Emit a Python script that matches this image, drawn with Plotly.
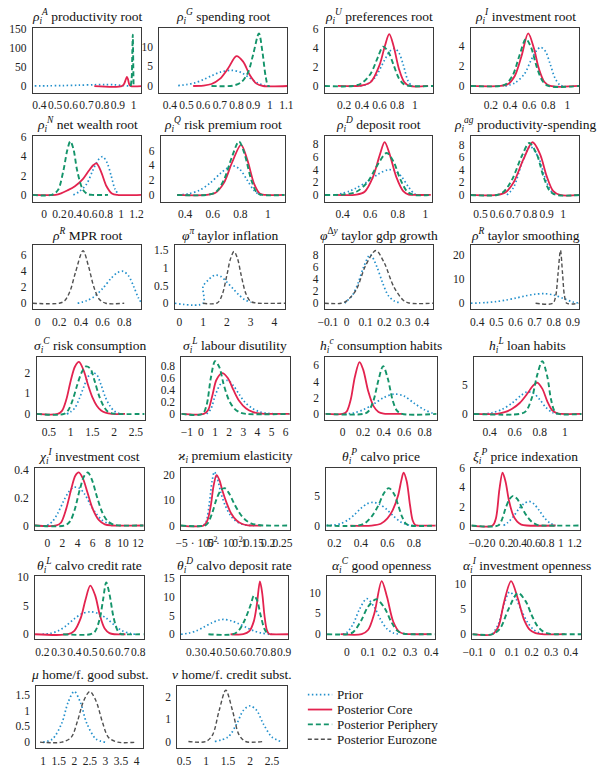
import plotly.graph_objects as go

W, H = 601, 769

# ---------------- data ----------------
TITLES = [
    "<i>ρ</i><sub><i>i</i></sub><sup><i>A</i></sup> productivity root",
    "<i>ρ</i><sub><i>i</i></sub><sup><i>G</i></sup> spending root",
    "<i>ρ</i><sub><i>i</i></sub><sup><i>U</i></sup> preferences root",
    "<i>ρ</i><sub><i>i</i></sub><sup><i>I</i></sup> investment root",
    "<i>ρ</i><sub><i>i</i></sub><sup><i>N</i></sup> net wealth root",
    "<i>ρ</i><sub><i>i</i></sub><sup><i>Q</i></sup> risk premium root",
    "<i>ρ</i><sub><i>i</i></sub><sup><i>D</i></sup> deposit root",
    "<i>ρ</i><sub><i>i</i></sub><sup><i>ag</i></sup> productivity-spending",
    "<i>ρ</i><sup><i>R</i></sup> MPR root",
    "<i>φ</i><sup><i>π</i></sup> taylor inflation",
    "<i>φ</i><sup>Δ<i>y</i></sup> taylor gdp growth",
    "<i>ρ</i><sup><i>R</i></sup> taylor smoothing",
    "<i>σ</i><sub><i>i</i></sub><sup><i>C</i></sup> risk consumption",
    "<i>σ</i><sub><i>i</i></sub><sup><i>L</i></sup> labour disutility",
    "<i>h</i><sub><i>i</i></sub><sup><i>c</i></sup> consumption habits",
    "<i>h</i><sub><i>i</i></sub><sup><i>L</i></sup> loan habits",
    "<i>χ</i><sub><i>i</i></sub><sup><i>I</i></sup> investment cost",
    "<i>ϰ</i><sub><i>i</i></sub> premium elasticity",
    "<i>θ</i><sub><i>i</i></sub><sup><i>P</i></sup> calvo price",
    "<i>ξ</i><sub><i>i</i></sub><sup><i>P</i></sup> price indexation",
    "<i>θ</i><sub><i>i</i></sub><sup><i>L</i></sup> calvo credit rate",
    "<i>θ</i><sub><i>i</i></sub><sup><i>D</i></sup> calvo deposit rate",
    "<i>α</i><sub><i>i</i></sub><sup><i>C</i></sup> good openness",
    "<i>α</i><sub><i>i</i></sub><sup><i>I</i></sup> investment openness",
    "<i>μ</i> home/f. good subst.",
    "<i>ν</i> home/f. credit subst.",
]
SERIES_NAMES = ["Prior", "Posterior Core", "Posterior Periphery", "Posterior Eurozone"]

# 1 rho_A
rhoA_prior = [(0.37, 0.2), (0.45, 0.6), (0.55, 1.2), (0.65, 2.2), (0.75, 3.4), (0.82, 3.9), (0.88, 3.2), (0.93, 1.5), (0.97, 0.3), (0.99, 0)]
rhoA_core = [(0.75, 0), (0.925, 0), (0.94, 6), (0.95, 17), (0.958, 24), (0.965, 17), (0.972, 5), (0.98, 0), (1.05, 0)]
rhoA_peri = [(0.982, 0), (0.988, 20), (0.992, 90), (0.995, 135), (0.998, 60), (1.0, 0)]
rhoA_xticks = [0.4, 0.5, 0.6, 0.7, 0.8, 0.9, 1]
rhoA_yticks = [0, 50, 100, 150]
# 2 rho_G
rhoG_prior = [(0.45, 0.1), (0.5, 0.35), (0.55, 0.8), (0.6, 1.6), (0.65, 2.6), (0.7, 3.5), (0.77, 4.0), (0.83, 3.4), (0.88, 2.0), (0.93, 0.7), (0.97, 0.1), (1.0, 0)]
rhoG_core = [(0.54, 0), (0.6, 0.1), (0.65, 0.5), (0.7, 1.8), (0.75, 4.5), (0.8, 7.6), (0.84, 6.2), (0.88, 2.8), (0.92, 0.6), (0.96, 0), (1.106, 0)]
rhoG_peri = [(0.65, 0), (0.78, 0.1), (0.83, 1), (0.87, 3.5), (0.9, 8), (0.935, 13.4), (0.955, 9), (0.975, 2.5), (0.99, 0), (1.0, 0)]
rhoG_xticks = [0.4, 0.5, 0.6, 0.7, 0.8, 0.9, 1, 1.1]
rhoG_yticks = [0, 5, 10]
# 3 rho_U
rhoU_prior = [(0.38, 0), (0.45, 0.15), (0.55, 0.9), (0.65, 2.6), (0.72, 3.7), (0.77, 3.95), (0.82, 3.5), (0.87, 2.2), (0.92, 0.6), (0.96, 0.05), (0.98, 0)]
rhoU_core = [(0.13, 0), (0.4, 0.05), (0.5, 0.4), (0.6, 2.2), (0.66, 4.2), (0.71, 5.47), (0.76, 4.2), (0.82, 1.8), (0.88, 0.4), (0.94, 0), (1.15, 0)]
rhoU_peri = [(-0.02, 0), (0.3, 0), (0.4, 0.3), (0.5, 1.3), (0.58, 3.0), (0.64, 4.15), (0.7, 3.6), (0.76, 2.2), (0.82, 0.8), (0.88, 0.15), (0.95, 0), (1.21, 0)]
rhoU_xticks = [0.2, 0.4, 0.6, 0.8, 1]
rhoU_yticks = [0, 2, 4, 6]
# 4 rho_I
rhoI_prior = [(0.35, 0), (0.45, 0.3), (0.55, 1.2), (0.62, 2.6), (0.68, 3.6), (0.72, 3.9), (0.77, 3.5), (0.82, 2.2), (0.87, 0.8), (0.92, 0.1), (0.95, 0)]
rhoI_core = [(-0.01, 0), (0.3, 0), (0.38, 0.2), (0.45, 1.0), (0.52, 3.0), (0.59, 5.3), (0.65, 3.8), (0.7, 1.8), (0.76, 0.4), (0.82, 0), (1.125, 0)]
rhoI_peri = [(-0.01, 0), (0.3, 0), (0.36, 0.2), (0.43, 1.1), (0.5, 3.1), (0.566, 4.74), (0.62, 3.9), (0.68, 1.9), (0.74, 0.5), (0.8, 0), (1.125, 0)]
rhoI_xticks = [0.2, 0.4, 0.6, 0.8, 1]
rhoI_yticks = [0, 2, 4]
# 5 rho_N
rhoN_prior = [(0.38, 0), (0.45, 0.3), (0.55, 1.1), (0.63, 2.5), (0.7, 3.6), (0.76, 3.97), (0.82, 3.3), (0.87, 2.0), (0.92, 0.6), (0.97, 0)]
rhoN_core = [(-0.148, 0), (0.15, 0), (0.22, 0.15), (0.3, 0.45), (0.4, 0.9), (0.5, 1.6), (0.58, 2.5), (0.64, 3.1), (0.68, 3.27), (0.74, 2.4), (0.81, 0.9), (0.88, 0.15), (0.95, 0), (1.263, 0)]
rhoN_peri = [(-0.148, 0), (0.1, 0), (0.18, 0.5), (0.25, 2.5), (0.3, 4.6), (0.34, 5.57), (0.38, 4.8), (0.43, 2.5), (0.5, 0.6), (0.56, 0.1), (0.62, 0), (0.83, 0)]
rhoN_xticks = [0, 0.2, 0.4, 0.6, 0.8, 1, 1.2]
rhoN_yticks = [0, 2, 4, 6]
# 6 rho_Q
rhoQ_prior = [(0.35, 0), (0.42, 0.15), (0.5, 0.6), (0.58, 1.6), (0.66, 3.0), (0.72, 3.8), (0.76, 3.9), (0.8, 3.4), (0.85, 2.0), (0.9, 0.6), (0.94, 0.05), (0.96, 0)]
rhoQ_core = [(0.342, 0), (0.55, 0), (0.62, 0.3), (0.68, 1.6), (0.74, 4.4), (0.805, 6.8), (0.85, 4.8), (0.9, 1.5), (0.94, 0.2), (0.98, 0), (1.12, 0)]
rhoQ_peri = [(0.342, 0), (0.55, 0), (0.62, 0.35), (0.68, 2.0), (0.74, 5.2), (0.79, 7.26), (0.83, 5.6), (0.88, 2.0), (0.92, 0.3), (0.96, 0), (1.12, 0)]
rhoQ_xticks = [0.4, 0.6, 0.8, 1]
rhoQ_yticks = [0, 2, 4, 6]
# 7 rho_D
rhoD_prior = [(0.35, 0), (0.45, 0.6), (0.5, 1.1), (0.58, 2.1), (0.66, 3.3), (0.73, 3.95), (0.78, 3.8), (0.83, 2.8), (0.88, 1.2), (0.92, 0.2), (0.95, 0)]
rhoD_core = [(0.35, 0), (0.5, 0.05), (0.56, 0.5), (0.62, 2.8), (0.67, 6.3), (0.705, 8.3), (0.74, 6.5), (0.79, 2.8), (0.84, 0.6), (0.88, 0.05), (0.92, 0), (1.04, 0)]
rhoD_peri = [(0.27, 0), (0.4, 0.05), (0.5, 0.5), (0.58, 2.0), (0.65, 4.6), (0.72, 6.6), (0.77, 5.2), (0.82, 2.4), (0.87, 0.5), (0.92, 0), (1.04, 0)]
rhoD_xticks = [0.4, 0.6, 0.8, 1]
rhoD_yticks = [0, 2, 4, 6, 8]
# 8 rho_ag
rhoag_prior = [(0.66, 0), (0.7, 1.2), (0.75, 5.0), (0.8, 7.7), (0.85, 6.0), (0.9, 2.0), (0.94, 0.2), (0.96, 0)]
rhoag_core = [(0.441, 0), (0.6, 0), (0.65, 0.4), (0.7, 2.0), (0.76, 5.7), (0.815, 8.4), (0.86, 6.5), (0.9, 3.0), (0.94, 0.6), (0.98, 0), (1.098, 0)]
rhoag_peri = [(0.441, 0), (0.6, 0), (0.64, 0.5), (0.69, 2.4), (0.75, 6.2), (0.795, 8.27), (0.84, 6.5), (0.88, 3.0), (0.92, 0.6), (0.96, 0), (1.098, 0)]
rhoag_xticks = [0.5, 0.6, 0.7, 0.8, 0.9, 1]
rhoag_yticks = [0, 2, 4, 6, 8]
# 9 rho_R MPR
mpr_prior = [(0.37, 0), (0.45, 0.3), (0.52, 0.8), (0.6, 1.8), (0.68, 3.1), (0.74, 3.8), (0.79, 3.95), (0.84, 3.4), (0.89, 2.0), (0.93, 0.7), (0.959, 0.05)]
mpr_euro = [(-0.045, 0), (0.2, 0), (0.25, 0.3), (0.3, 1.5), (0.35, 3.8), (0.42, 6.5), (0.47, 4.6), (0.52, 2.0), (0.57, 0.5), (0.63, 0), (0.8, 0)]
mpr_xticks = [0, 0.2, 0.4, 0.6, 0.8]
mpr_yticks = [0, 2, 4, 6]
# 10 phi_pi
phipi_prior = [(-0.19, 0), (1.0, 0), (1.0, 0.48), (1.2, 0.65), (1.4, 0.77), (1.55, 0.8), (1.75, 0.76), (2.0, 0.6), (2.25, 0.42), (2.5, 0.24), (2.75, 0.1), (3.0, 0.03)]
phipi_euro = [(1.0, 0), (1.6, 0.01), (1.8, 0.24), (2.0, 0.8), (2.15, 1.26), (2.3, 1.47), (2.45, 1.26), (2.6, 0.8), (2.8, 0.27), (3.0, 0.05), (3.2, 0.01), (3.3, 0), (4.45, 0)]
phipi_xticks = [0, 1, 2, 3, 4]
phipi_yticks = [0, 0.5, 1, 1.5]
# 11 phi_dy
phidy_prior = [(-0.01, 0), (0.0, 0.35), (0.03, 1.3), (0.06, 3.3), (0.09, 6.0), (0.125, 8.0), (0.16, 6.0), (0.19, 3.4), (0.22, 1.3), (0.25, 0.4), (0.28, 0.1)]
phidy_euro = [(-0.117, 0), (-0.03, 0), (0.0, 0.4), (0.05, 2.2), (0.1, 6.2), (0.155, 8.7), (0.2, 6.6), (0.25, 2.7), (0.3, 0.5), (0.33, 0.05), (0.46, 0)]
phidy_xticks = [-0.1, 0, 0.1, 0.2, 0.3, 0.4]
phidy_yticks = [0, 2, 4, 6, 8]
# 12 rho_R smoothing
smo_prior = [(0.366, 0), (0.45, 0.3), (0.5, 0.7), (0.55, 1.3), (0.6, 2.1), (0.65, 3.0), (0.7, 3.7), (0.75, 3.95), (0.8, 3.4), (0.85, 2.0), (0.9, 0.5), (0.934, 0.05)]
smo_euro = [(0.705, 0), (0.795, 0), (0.81, 3), (0.822, 12), (0.835, 21.8), (0.846, 12), (0.856, 3), (0.868, 0), (0.93, 0)]
smo_xticks = [0.4, 0.5, 0.6, 0.7, 0.8, 0.9]
smo_yticks = [0, 10, 20]
# 13 sigma_C
sigC_prior = [(0.91, 0), (1.0, 0.1), (1.1, 0.3), (1.2, 0.75), (1.3, 1.3), (1.4, 1.8), (1.5, 2.0), (1.6, 1.9), (1.7, 1.4), (1.8, 0.8), (1.9, 0.4), (2.0, 0.14), (2.1, 0.04), (2.2, 0)]
sigC_core = [(0.216, 0), (0.7, 0), (0.8, 0.15), (0.9, 0.7), (1.0, 1.6), (1.1, 2.3), (1.19, 2.52), (1.3, 2.1), (1.4, 1.4), (1.5, 0.8), (1.6, 0.4), (1.7, 0.17), (1.8, 0.06), (1.95, 0), (2.25, 0)]
sigC_peri = [(0.216, 0), (0.85, 0), (0.95, 0.2), (1.05, 0.7), (1.15, 1.4), (1.25, 2.0), (1.35, 2.3), (1.45, 2.2), (1.55, 1.6), (1.65, 0.9), (1.75, 0.4), (1.85, 0.12), (1.95, 0.03), (2.05, 0), (2.7, 0)]
sigC_xticks = [0.5, 1, 1.5, 2, 2.5]
sigC_yticks = [0, 1, 2]
# 14 sigma_L
sigL_prior = [(0.4, 0), (0.7, 0.08), (1.0, 0.3), (1.4, 0.5), (1.9, 0.56), (2.3, 0.47), (2.7, 0.33), (3.1, 0.2), (3.6, 0.1), (4.1, 0.04), (4.6, 0.015), (5.0, 0.005), (5.3, 0)]
sigL_core = [(-1.39, 0), (0.2, 0), (0.5, 0.06), (0.8, 0.3), (1.1, 0.57), (1.5, 0.68), (1.9, 0.6), (2.3, 0.4), (2.7, 0.22), (3.2, 0.09), (3.7, 0.03), (4.3, 0.005), (5.0, 0), (6.28, 0)]
sigL_peri = [(-1.39, 0), (0.1, 0), (0.4, 0.15), (0.7, 0.6), (1.0, 0.88), (1.3, 0.78), (1.6, 0.5), (2.0, 0.22), (2.4, 0.08), (2.8, 0.02), (3.2, 0), (6.28, 0)]
sigL_xticks = [-1, 0, 1, 2, 3, 4, 5, 6]
sigL_yticks = [0, 0.2, 0.4, 0.6, 0.8]
# 15 h_c
hc_prior = [(0.02, 0), (0.1, 0.1), (0.2, 0.5), (0.3, 1.2), (0.4, 2.0), (0.5, 2.45), (0.6, 2.2), (0.7, 1.3), (0.8, 0.5), (0.88, 0.08), (0.9, 0)]
hc_core = [(-0.168, 0), (0.0, 0), (0.04, 0.3), (0.08, 1.8), (0.12, 4.6), (0.165, 6.4), (0.2, 5.5), (0.25, 2.8), (0.3, 1.0), (0.35, 0.25), (0.4, 0.04), (0.45, 0), (0.58, 0)]
hc_peri = [(-0.168, 0), (0.2, 0), (0.25, 0.3), (0.3, 1.6), (0.35, 4.2), (0.395, 5.9), (0.44, 4.4), (0.49, 1.6), (0.53, 0.4), (0.58, 0), (0.917, 0)]
hc_xticks = [0, 0.2, 0.4, 0.6, 0.8]
hc_yticks = [0, 2, 4, 6]
# 16 h_L
hL_prior = [(0.35, 0), (0.42, 0.2), (0.5, 0.8), (0.58, 1.9), (0.65, 3.2), (0.7, 3.85), (0.75, 3.6), (0.8, 2.5), (0.85, 1.1), (0.9, 0.25), (0.94, 0.02)]
hL_core = [(0.276, 0), (0.46, 0), (0.52, 0.3), (0.58, 0.9), (0.64, 1.9), (0.7, 3.5), (0.745, 4.9), (0.78, 5.46), (0.82, 4.4), (0.86, 2.2), (0.9, 0.6), (0.94, 0.08), (0.97, 0), (1.134, 0)]
hL_peri = [(0.276, 0), (0.64, 0), (0.69, 0.5), (0.74, 3), (0.78, 6.8), (0.82, 9.2), (0.86, 6.5), (0.89, 2.5), (0.92, 0.4), (0.95, 0), (1.134, 0)]
hL_xticks = [0.4, 0.6, 0.8, 1]
hL_yticks = [0, 5]
# 17 chi_I
chiI_prior = [(0, 0), (0.7, 0.03), (1.4, 0.09), (2.1, 0.17), (2.8, 0.24), (3.5, 0.275), (4.2, 0.27), (4.9, 0.23), (5.6, 0.16), (6.4, 0.09), (7.2, 0.04), (8.0, 0.015), (8.6, 0)]
chiI_core = [(-1.62, 0), (1.2, 0), (1.8, 0.02), (2.5, 0.12), (3.2, 0.27), (3.7, 0.36), (4.16, 0.383), (4.7, 0.34), (5.3, 0.24), (6, 0.12), (6.8, 0.04), (7.6, 0.008), (8.5, 0), (12.73, 0)]
chiI_peri = [(-1.62, 0), (2.3, 0), (3.0, 0.03), (3.6, 0.11), (4.3, 0.26), (4.9, 0.36), (5.36, 0.383), (5.9, 0.33), (6.6, 0.2), (7.3, 0.09), (8.0, 0.03), (8.8, 0.005), (9.5, 0), (12.73, 0)]
chiI_xticks = [0, 2, 4, 6, 8, 10, 12]
chiI_yticks = [0, 0.2, 0.4]
# 18 kappa
kap_prior = [(-0.025, 0), (-0.015, 2), (-0.005, 9), (0.005, 18), (0.0125, 21.3), (0.022, 19), (0.035, 13), (0.05, 8), (0.07, 3.8), (0.09, 1.5), (0.11, 0.5), (0.13, 0.1), (0.15, 0)]
kap_core = [(-0.104, 0), (-0.025, 0), (-0.012, 2), (0.0, 8), (0.01, 16), (0.02, 20), (0.03, 18), (0.04, 14), (0.055, 9), (0.07, 5), (0.09, 2), (0.11, 0.6), (0.13, 0.1), (0.15, 0), (0.176, 0)]
kap_peri = [(-0.104, 0), (-0.02, 0), (-0.01, 1), (0.005, 5), (0.02, 10.5), (0.035, 14), (0.0485, 14.8), (0.065, 12.5), (0.08, 9), (0.1, 5), (0.12, 2.3), (0.14, 0.9), (0.16, 0.3), (0.19, 0), (0.275, 0)]
kap_xticks = [-0.05, 0, 0.05, 0.1, 0.15, 0.2, 0.25]
kap_xticktext = ["−5 · 10<sup>−2</sup>", "0", "5 · 10<sup>−2</sup>", "0.1", "0.15", "0.2", "0.25"]
kap_yticks = [0, 10, 20]
# 19 theta_P
thP_prior = [(0.139, 0), (0.2, 0.1), (0.25, 0.35), (0.3, 0.9), (0.35, 1.8), (0.4, 2.9), (0.45, 3.7), (0.49, 3.9), (0.54, 3.6), (0.6, 2.6), (0.65, 1.5), (0.7, 0.6), (0.75, 0.15), (0.8, 0)]
thP_core = [(0.32, 0), (0.48, 0), (0.55, 0.3), (0.6, 1.2), (0.64, 2.6), (0.68, 5.0), (0.705, 7.6), (0.722, 8.9), (0.745, 7.5), (0.77, 3.5), (0.79, 0.9), (0.81, 0.1), (0.83, 0), (0.964, 0)]
thP_peri = [(0.139, 0), (0.38, 0), (0.43, 0.4), (0.48, 1.5), (0.53, 3.3), (0.57, 5.3), (0.61, 6.3), (0.65, 5.3), (0.68, 3.5), (0.71, 1.5), (0.74, 0.3), (0.77, 0), (0.964, 0)]
thP_xticks = [0.2, 0.4, 0.6, 0.8]
thP_yticks = [0, 5]
# 20 xi_P
xiP_prior = [(0.16, 0), (0.22, 0.3), (0.3, 0.9), (0.38, 1.7), (0.46, 2.3), (0.535, 2.53), (0.6, 2.3), (0.68, 1.6), (0.76, 0.8), (0.84, 0.25), (0.92, 0)]
xiP_core = [(-0.31, 0), (0.0, 0), (0.05, 0.8), (0.1, 3.8), (0.146, 5.55), (0.19, 4.6), (0.24, 2.6), (0.3, 1.1), (0.36, 0.4), (0.42, 0.1), (0.5, 0), (0.92, 0)]
xiP_peri = [(-0.31, 0), (0.08, 0), (0.13, 0.5), (0.19, 1.8), (0.25, 2.8), (0.3, 3.12), (0.36, 2.8), (0.42, 2.0), (0.5, 1.0), (0.58, 0.35), (0.66, 0.05), (0.72, 0), (1.28, 0)]
xiP_xticks = [-0.2, 0, 0.2, 0.4, 0.6, 0.8, 1, 1.2]
xiP_yticks = [0, 2, 4, 6]
# 21 theta_L
thL_prior = [(0.2, 0), (0.25, 0.15), (0.3, 0.6), (0.35, 1.5), (0.4, 2.7), (0.45, 3.6), (0.5, 3.9), (0.55, 3.6), (0.6, 2.8), (0.65, 1.6), (0.7, 0.6), (0.75, 0.15), (0.78, 0)]
thL_core = [(0.154, 0), (0.36, 0), (0.4, 0.6), (0.44, 2.8), (0.47, 6), (0.5, 8.45), (0.53, 6.8), (0.56, 3.3), (0.59, 1.0), (0.62, 0.2), (0.65, 0), (0.72, 0)]
thL_peri = [(0.33, 0), (0.5, 0), (0.53, 0.5), (0.56, 2.8), (0.58, 6), (0.6, 9.0), (0.62, 7), (0.645, 3), (0.67, 0.7), (0.69, 0.05), (0.7, 0), (0.834, 0)]
thL_xticks = [0.2, 0.3, 0.4, 0.5, 0.6, 0.7, 0.8]
thL_yticks = [0, 5, 10]
# 22 theta_D
thD_prior = [(0.219, 0), (0.27, 0.3), (0.32, 0.9), (0.37, 1.9), (0.42, 3.0), (0.47, 3.8), (0.5, 3.95), (0.55, 3.6), (0.6, 2.8), (0.65, 1.8), (0.7, 0.9), (0.75, 0.3), (0.8, 0.05), (0.82, 0)]
thD_core = [(0.546, 0), (0.63, 0), (0.67, 0.8), (0.7, 3.5), (0.72, 8), (0.74, 14.1), (0.755, 11), (0.77, 5), (0.785, 1.2), (0.8, 0.1), (0.81, 0), (0.926, 0)]
thD_peri = [(0.4, 0), (0.56, 0), (0.6, 1.0), (0.64, 3.8), (0.68, 8.0), (0.7, 10.3), (0.72, 9.2), (0.745, 5), (0.77, 1.4), (0.79, 0.2), (0.8, 0)]
thD_xticks = [0.3, 0.4, 0.5, 0.6, 0.7, 0.8, 0.9]
thD_yticks = [0, 5, 10, 15]
# 23 alpha_C
alC_prior = [(-0.02, 0), (0.0, 0.4), (0.03, 2.5), (0.06, 6), (0.095, 8.55), (0.13, 6.5), (0.16, 3.5), (0.19, 1.3), (0.22, 0.3), (0.25, 0)]
alC_core = [(-0.03, 0), (0.07, 0), (0.1, 1.0), (0.13, 5), (0.165, 12.8), (0.19, 9), (0.22, 3), (0.25, 0.5), (0.28, 0.05), (0.3, 0), (0.4, 0)]
alC_peri = [(-0.094, 0), (0.0, 0), (0.03, 0.5), (0.07, 3.5), (0.1, 6.6), (0.14, 8.4), (0.18, 6.2), (0.21, 3), (0.24, 0.8), (0.27, 0.1), (0.3, 0), (0.418, 0)]
alC_xticks = [0, 0.1, 0.2, 0.3, 0.4]
alC_yticks = [0, 5, 10]
# 24 alpha_I
alI_prior = [(0.0, 0), (0.03, 2), (0.06, 6), (0.087, 8.35), (0.12, 7), (0.15, 4.5), (0.18, 2.3), (0.21, 0.9), (0.24, 0.25), (0.27, 0)]
alI_core = [(-0.103, 0), (0.0, 0), (0.03, 1.5), (0.06, 6.5), (0.095, 10.5), (0.13, 7), (0.16, 3), (0.19, 0.9), (0.22, 0.2), (0.25, 0), (0.37, 0)]
alI_peri = [(-0.103, 0), (0.0, 0), (0.04, 1.2), (0.08, 4.8), (0.13, 8.15), (0.17, 6.5), (0.2, 3.8), (0.23, 1.6), (0.26, 0.5), (0.29, 0.1), (0.32, 0), (0.453, 0)]
alI_xticks = [-0.1, 0, 0.1, 0.2, 0.3, 0.4]
alI_yticks = [0, 5, 10]
# 25 mu
mu_prior = [(1.0, 0), (1.3, 0.1), (1.6, 0.6), (1.8, 1.25), (2.0, 1.6), (2.2, 1.25), (2.4, 0.6), (2.7, 0.1), (3.0, 0)]
mu_euro = [(0.9, 0), (1.6, 0), (1.9, 0.15), (2.1, 0.65), (2.3, 1.3), (2.5, 1.6), (2.7, 1.3), (2.9, 0.65), (3.1, 0.15), (3.4, 0), (4.0, 0)]
mu_xticks = [1, 1.5, 2, 2.5, 3, 3.5, 4]
mu_yticks = [0, 0.5, 1, 1.5]
# 26 nu
nu_prior = [(1.2, 0), (1.5, 0.2), (1.7, 0.8), (1.85, 1.4), (2.0, 1.6), (2.15, 1.4), (2.3, 0.8), (2.5, 0.2), (2.7, 0)]
nu_euro = [(0.6, 0), (1.0, 0), (1.15, 0.3), (1.3, 1.4), (1.45, 2.3), (1.6, 1.4), (1.75, 0.3), (1.9, 0), (2.3, 0)]
nu_xticks = [0.5, 1, 1.5, 2, 2.5]
nu_yticks = [0, 1, 2]

# ---------------- layout of panels (pixel boxes & axis ranges) ----------------
PANELS = [
    # (series dict, xticks, yticks, box(x0,x1,top,bottom) px, xrange, yrange)
    (dict(prior=rhoA_prior, core=rhoA_core, peri=rhoA_peri), rhoA_xticks, rhoA_yticks, (23.3, 135, 21.7, 87.3), (0.357, 1.05), (-17, 154)),
    (dict(prior=rhoG_prior, core=rhoG_core, peri=rhoG_peri), rhoG_xticks, rhoG_yticks, (153.3, 285, 21.7, 87.3), (0.336, 1.106), (-1.66, 14.9)),
    (dict(prior=rhoU_prior, core=rhoU_core, peri=rhoU_peri), rhoU_xticks, rhoU_yticks, (323.3, 435, 21.7, 87.3), (-0.02, 1.21), (-0.69, 6.17)),
    (dict(prior=rhoI_prior, core=rhoI_core, peri=rhoI_peri), rhoI_xticks, rhoI_yticks, (473.3, 585, 21.7, 87.3), (-0.01, 1.125), (-0.66, 5.9)),
    (dict(prior=rhoN_prior, core=rhoN_core, peri=rhoN_peri), rhoN_xticks, rhoN_yticks, (23.3, 135, 130.7, 197.3), (-0.148, 1.263), (-0.69, 6.17)),
    (dict(prior=rhoQ_prior, core=rhoQ_core, peri=rhoQ_peri), rhoQ_xticks, rhoQ_yticks, (155, 282.7, 130.7, 197.3), (0.224, 1.125), (-0.89, 8.06)),
    (dict(prior=rhoD_prior, core=rhoD_core, peri=rhoD_peri), rhoD_xticks, rhoD_yticks, (323.3, 433.3, 130.7, 197.3), (0.27, 1.047), (-1.03, 9.34)),
    (dict(prior=rhoag_prior, core=rhoag_core, peri=rhoag_peri), rhoag_xticks, rhoag_yticks, (473.3, 585, 130.7, 197.3), (0.441, 1.098), (-1.04, 9.47)),
    (dict(prior=mpr_prior, euro=mpr_euro), mpr_xticks, mpr_yticks, (23.3, 135, 241.7, 305.7), (-0.045, 0.959), (-0.7, 7.14)),
    (dict(prior=phipi_prior, euro=phipi_euro), phipi_xticks, phipi_yticks, (169.3, 282.7, 241.7, 305.7), (-0.19, 4.45), (-0.16, 1.64)),
    (dict(prior=phidy_prior, euro=phidy_euro), phidy_xticks, phidy_yticks, (323.3, 435, 241.7, 305.7), (-0.117, 0.46), (-0.93, 9.52)),
    (dict(prior=smo_prior, euro=smo_euro), smo_xticks, smo_yticks, (473.3, 585, 241.7, 305.7), (0.366, 0.934), (-2.33, 23.8)),
    (dict(prior=sigC_prior, core=sigC_core, peri=sigC_peri), sigC_xticks, sigC_yticks, (27.3, 138.3, 354, 417.3), (0.216, 2.70), (-0.27, 2.77)),
    (dict(prior=sigL_prior, core=sigL_core, peri=sigL_peri), sigL_xticks, sigL_yticks, (176, 287.3, 354, 417.3), (-1.39, 6.28), (-0.093, 0.954)),
    (dict(prior=hc_prior, core=hc_core, peri=hc_peri), hc_xticks, hc_yticks, (324, 438.3, 354, 417.3), (-0.168, 0.917), (-0.69, 7.06)),
    (dict(prior=hL_prior, core=hL_core, peri=hL_peri), hL_xticks, hL_yticks, (476.7, 587.3, 354, 417.3), (0.276, 1.134), (-0.97, 9.95)),
    (dict(prior=chiI_prior, core=chiI_core, peri=chiI_peri), chiI_xticks, chiI_yticks, (25.7, 137.3, 466, 529), (-1.62, 12.73), (-0.034, 0.417)),
    (dict(prior=kap_prior, core=kap_core, peri=kap_peri), kap_xticks, kap_yticks, (175.7, 287.3, 466, 529), (-0.104, 0.275), (-1.84, 22.9)),
    (dict(prior=thP_prior, core=thP_core, peri=thP_peri), thP_xticks, thP_yticks, (325, 437.3, 466, 529), (0.139, 0.964), (-0.78, 9.72)),
    (dict(prior=xiP_prior, core=xiP_core, peri=xiP_peri), xiP_xticks, xiP_yticks, (474, 585.7, 466, 529), (-0.31, 1.28), (-0.49, 6.07)),
    (dict(prior=thL_prior, core=thL_core, peri=thL_peri), thL_xticks, thL_yticks, (25.7, 137.3, 575.7, 639), (0.154, 0.834), (-0.86, 10.05)),
    (dict(prior=thD_prior, core=thD_core, peri=thD_peri), thD_xticks, thD_yticks, (175.7, 285.7, 575.7, 639), (0.219, 0.926), (-1.32, 15.42)),
    (dict(prior=alC_prior, core=alC_core, peri=alC_peri), alC_xticks, alC_yticks, (325.7, 436.7, 575.7, 639), (-0.094, 0.418), (-1.2, 13.9)),
    (dict(prior=alI_prior, core=alI_core, peri=alI_peri), alI_xticks, alI_yticks, (475, 586.7, 575.7, 639), (-0.103, 0.453), (-0.99, 11.44)),
    (dict(prior=mu_prior, euro=mu_euro), mu_xticks, mu_yticks, (27, 137, 686, 749), (0.78, 4.22), (-0.19, 1.78)),
    (dict(prior=nu_prior, euro=nu_euro), nu_xticks, nu_yticks, (172, 285, 686, 749), (0.35, 2.85), (-0.3, 2.5)),
]

STYLE = {
    "prior": dict(color="#2390cc", width=1.7, dash="1.5px,2.5px"),
    "core": dict(color="#e3234f", width=1.8, dash="solid"),
    "peri": dict(color="#14946a", width=1.9, dash="5px,3px"),
    "euro": dict(color="#505050", width=1.4, dash="4px,2.5px"),
}
NAME_OF = dict(prior=SERIES_NAMES[0], core=SERIES_NAMES[1], peri=SERIES_NAMES[2], euro=SERIES_NAMES[3])
ORDER = ["prior", "core", "peri", "euro"]
FONT = "Liberation Serif"


def fmt(v):
    s = ("%g" % v)
    return s.replace("-", "−")


fig = go.Figure()
annotations = []
shapes = []
layout_axes = {}

for i, (series, xt, yt, box, xr, yr) in enumerate(PANELS, start=1):
    x0, x1, top, bot = box
    xa = "x" if i == 1 else f"x{i}"
    ya = "y" if i == 1 else f"y{i}"
    for key in ORDER:
        if key not in series:
            continue
        pts = series[key]
        fig.add_trace(go.Scatter(
            x=[p[0] for p in pts], y=[p[1] for p in pts],
            mode="lines", line=dict(shape="spline", smoothing=0.9, **STYLE[key]),
            xaxis=xa, yaxis=ya, showlegend=False, hoverinfo="skip",
        ))
    if i == 18:
        xtext = kap_xticktext
    else:
        xtext = [fmt(v) for v in xt]
    axis_common = dict(showline=True, mirror=True, linecolor="#3a3a3a", linewidth=1,
                       showgrid=False, zeroline=False, ticks="", fixedrange=True,
                       tickangle=0, tickfont=dict(family=FONT, size=11.5, color="#222"))
    layout_axes["xaxis" if i == 1 else f"xaxis{i}"] = dict(
        domain=[x0 / W, x1 / W], anchor=ya, range=list(xr),
        tickmode="array", tickvals=xt, ticktext=xtext, ticklabelstandoff=2, **axis_common)
    layout_axes["yaxis" if i == 1 else f"yaxis{i}"] = dict(
        domain=[1 - bot / H, 1 - top / H], anchor=xa, range=list(yr),
        tickmode="array", tickvals=yt, ticktext=[fmt(v) for v in yt], ticklabelstandoff=3, **axis_common)
    annotations.append(dict(
        text=TITLES[i - 1], x=(x0 + x1) / 2 / W, y=1 - (top - 11) / H,
        xref="paper", yref="paper", xanchor="center", yanchor="middle",
        showarrow=False, font=dict(family=FONT, size=13.5, color="#111")))

# legend (line samples + labels)
for j, key in enumerate(ORDER):
    ypx = 695 + 15 * j
    st = STYLE[key]
    shapes.append(dict(type="line", xref="paper", yref="paper",
                       x0=306 / W, x1=331 / W, y0=1 - ypx / H, y1=1 - ypx / H,
                       line=dict(color=st["color"], width=st["width"], dash=st["dash"])))
    annotations.append(dict(text=NAME_OF[key], x=334 / W, y=1 - ypx / H, xref="paper", yref="paper",
                            xanchor="left", yanchor="middle", showarrow=False,
                            font=dict(family=FONT, size=13, color="#111")))

fig.update_layout(
    width=W, height=H, margin=dict(l=0, r=0, t=0, b=0),
    paper_bgcolor="white", plot_bgcolor="white",
    annotations=annotations, shapes=shapes, showlegend=False,
    **layout_axes,
)

fig.write_html("out.html")
